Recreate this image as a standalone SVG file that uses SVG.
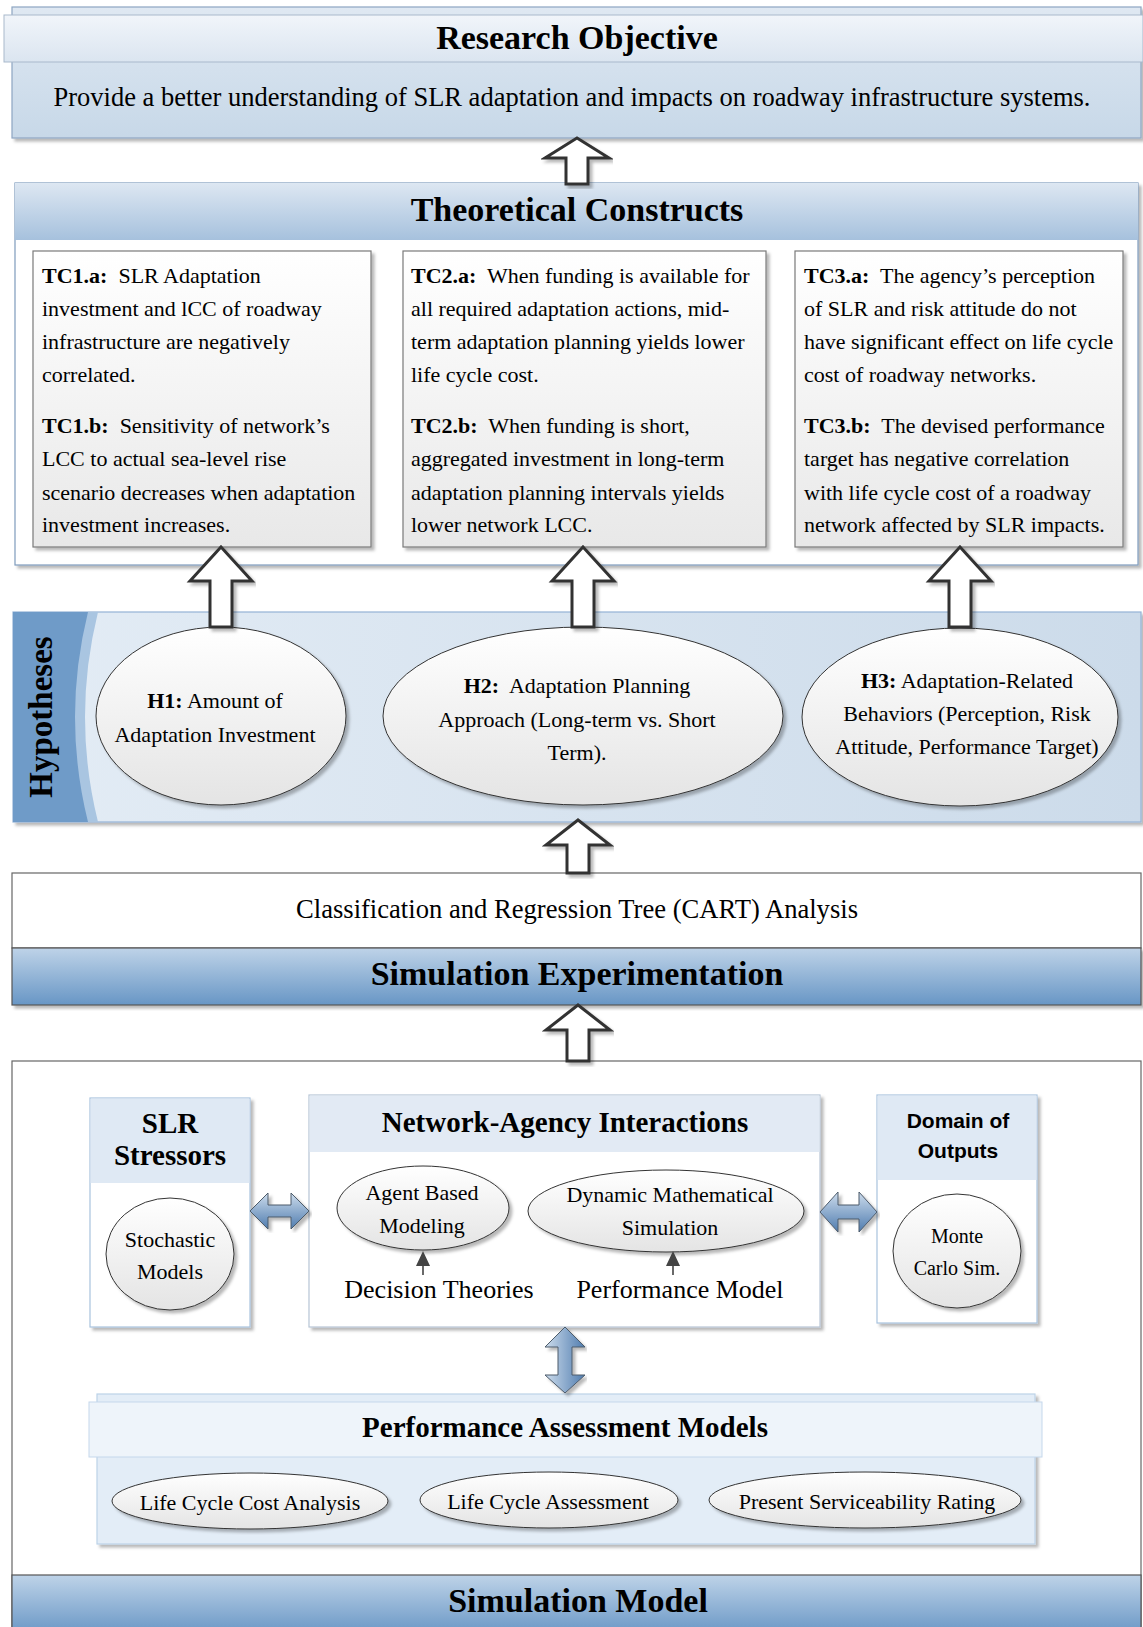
<svg xmlns="http://www.w3.org/2000/svg" width="1143" height="1627" viewBox="0 0 1143 1627">
  <defs>
    <style>
      text { font-family: "Liberation Serif", "Times New Roman", serif; fill: #000; }
      .title { font-size: 34px; font-weight: bold; text-anchor: middle; }
      .sub { font-size: 29px; font-weight: bold; text-anchor: middle; }
      .tc { font-size: 22px; }
      .tc tspan.b { font-weight: bold; }
      .el { font-size: 22px; text-anchor: middle; }
      .mid { text-anchor: middle; }
      .sans { font-family: "Liberation Sans", Arial, sans-serif; font-weight: bold; font-size: 21px; text-anchor: middle; }
      .hollow { fill: #fff; stroke: #333; stroke-width: 3; stroke-linejoin: miter; }
      .barrow { stroke: #4d5b6b; stroke-width: 1; }
      .ell { fill: url(#gEll); stroke: #333; stroke-width: 1; }
      .tcbox { fill: url(#gBox); stroke: #7a7a7a; stroke-width: 1.2; }
      .tip { fill: #444; }
    </style>
    <linearGradient id="gObj" x1="0" y1="0" x2="0" y2="1">
      <stop offset="0" stop-color="#dfe8f2"/>
      <stop offset="1" stop-color="#c7d8e8"/>
    </linearGradient>
    <linearGradient id="gObjHead" x1="0" y1="0" x2="0" y2="1">
      <stop offset="0" stop-color="#f1f5fa"/>
      <stop offset="1" stop-color="#dbe5f0"/>
    </linearGradient>
    <linearGradient id="gHead" x1="0" y1="0" x2="0" y2="1">
      <stop offset="0" stop-color="#dde7f2"/>
      <stop offset="1" stop-color="#a6c1dd"/>
    </linearGradient>
    <linearGradient id="gBand" x1="0" y1="0" x2="0" y2="1">
      <stop offset="0" stop-color="#bed3e8"/>
      <stop offset="1" stop-color="#6896c5"/>
    </linearGradient>
    <linearGradient id="gBox" x1="0" y1="0" x2="0" y2="1">
      <stop offset="0" stop-color="#ffffff"/>
      <stop offset="1" stop-color="#e8e8e8"/>
    </linearGradient>
    <linearGradient id="gEll" x1="0" y1="0" x2="0" y2="1">
      <stop offset="0" stop-color="#ffffff"/>
      <stop offset="1" stop-color="#e4e4e4"/>
    </linearGradient>
    <linearGradient id="gHyp" x1="0" y1="0" x2="1" y2="0">
      <stop offset="0" stop-color="#e3ecf5"/>
      <stop offset="1" stop-color="#ccdbea"/>
    </linearGradient>
    <linearGradient id="gBlueV" x1="0" y1="0" x2="0" y2="1">
      <stop offset="0" stop-color="#cddcec"/>
      <stop offset="1" stop-color="#4f7caf"/>
    </linearGradient>
    <linearGradient id="gBlueH" x1="0" y1="0" x2="1" y2="0">
      <stop offset="0" stop-color="#cddcec"/>
      <stop offset="1" stop-color="#4f7caf"/>
    </linearGradient>
    <filter id="sh" x="-5%" y="-5%" width="110%" height="115%">
      <feDropShadow dx="3" dy="3" stdDeviation="1.5" flood-color="#000" flood-opacity="0.28"/>
    </filter>
  </defs>

  <!-- Research objective -->
  <g id="research-objective">
    <rect x="12" y="7" width="1129" height="131" fill="url(#gObj)" stroke="#8ea6c2" stroke-width="1.2" filter="url(#sh)"/>
    <rect x="4" y="15" width="1139" height="47" fill="url(#gObjHead)" stroke="#a9b9cc" stroke-width="1"/>
    <text class="title" x="577" y="49">Research Objective</text>
    <text class="mid" x="572" y="106" font-size="26.5">Provide a better understanding of SLR adaptation and impacts on roadway infrastructure systems.</text>
  </g>

  <!-- Theoretical constructs -->
  <g id="theoretical-constructs">
    <rect x="15" y="183" width="1123" height="382" fill="#fff" stroke="#7f9cbd" stroke-width="1.2" filter="url(#sh)"/>
    <rect x="15" y="183" width="1123" height="57" fill="url(#gHead)"/>
    <text class="title" x="577" y="221">Theoretical Constructs</text>
  </g>

  <g id="tc1">
    <rect class="tcbox" x="33" y="251" width="338" height="296" filter="url(#sh)"/>
    <text class="tc" x="42" y="283"><tspan class="b">TC1.a:</tspan>&#160; SLR Adaptation</text>
    <text class="tc" x="42" y="316">investment and lCC of roadway</text>
    <text class="tc" x="42" y="349">infrastructure are negatively</text>
    <text class="tc" x="42" y="382">correlated.</text>
    <text class="tc" x="42" y="433"><tspan class="b">TC1.b:</tspan>&#160; Sensitivity of network’s</text>
    <text class="tc" x="42" y="466">LCC to actual sea-level rise</text>
    <text class="tc" x="42" y="500">scenario decreases when adaptation</text>
    <text class="tc" x="42" y="532">investment increases.</text>
  </g>

  <g id="tc2">
    <rect class="tcbox" x="403" y="251" width="363" height="296" filter="url(#sh)"/>
    <text class="tc" x="411" y="283"><tspan class="b">TC2.a:</tspan>&#160; When funding is available for</text>
    <text class="tc" x="411" y="316">all required adaptation actions, mid-</text>
    <text class="tc" x="411" y="349">term adaptation planning yields lower</text>
    <text class="tc" x="411" y="382">life cycle cost.</text>
    <text class="tc" x="411" y="433"><tspan class="b">TC2.b:</tspan>&#160; When funding is short,</text>
    <text class="tc" x="411" y="466">aggregated investment in long-term</text>
    <text class="tc" x="411" y="500">adaptation planning intervals yields</text>
    <text class="tc" x="411" y="532">lower network LCC.</text>
  </g>

  <g id="tc3">
    <rect class="tcbox" x="795" y="251" width="328" height="296" filter="url(#sh)"/>
    <text class="tc" x="804" y="283"><tspan class="b">TC3.a:</tspan>&#160; The agency’s perception</text>
    <text class="tc" x="804" y="316">of SLR and risk attitude do not</text>
    <text class="tc" x="804" y="349">have significant effect on life cycle</text>
    <text class="tc" x="804" y="382">cost of roadway networks.</text>
    <text class="tc" x="804" y="433"><tspan class="b">TC3.b:</tspan>&#160; The devised performance</text>
    <text class="tc" x="804" y="466">target has negative correlation</text>
    <text class="tc" x="804" y="500">with life cycle cost of a roadway</text>
    <text class="tc" x="804" y="532">network affected by SLR impacts.</text>
  </g>

  <!-- Hypotheses panel -->
  <g id="hypotheses">
    <rect x="13" y="612" width="1128" height="210" fill="url(#gHyp)" stroke="#95b3d6" stroke-width="1.2" filter="url(#sh)"/>
    <path d="M98,612 Q72,717 98,822 L13,822 L13,612 Z" fill="#a9c5e1"/>
    <path d="M88,612 Q62,717 88,822 L13,822 L13,612 Z" fill="#6f9bc8"/>
    <text x="52" y="717" font-size="33" font-weight="bold" text-anchor="middle" transform="rotate(-90 52 717)">Hypotheses</text>
  </g>

  <g id="h1">
    <ellipse class="ell" cx="221" cy="716" rx="125" ry="89" filter="url(#sh)"/>
    <text class="el" x="215" y="708"><tspan font-weight="bold">H1:</tspan> Amount of</text>
    <text class="el" x="215" y="742">Adaptation Investment</text>
  </g>
  <g id="h2">
    <ellipse class="ell" cx="583" cy="716" rx="200" ry="89" filter="url(#sh)"/>
    <text class="el" x="577" y="693"><tspan font-weight="bold">H2:</tspan>&#160; Adaptation Planning</text>
    <text class="el" x="577" y="727">Approach (Long-term vs. Short</text>
    <text class="el" x="577" y="760">Term).</text>
  </g>
  <g id="h3">
    <ellipse class="ell" cx="960" cy="717" rx="158" ry="89" filter="url(#sh)"/>
    <text class="el" x="967" y="688"><tspan font-weight="bold">H3:</tspan> Adaptation-Related</text>
    <text class="el" x="967" y="721">Behaviors (Perception, Risk</text>
    <text class="el" x="967" y="754">Attitude, Performance Target)</text>
  </g>

  <!-- Analysis and experimentation -->
  <g id="cart">
    <rect x="12" y="873" width="1129" height="75" fill="#fff" stroke="#666" stroke-width="1.2"/>
    <text class="mid" x="577" y="918" font-size="26.6">Classification and Regression Tree (CART) Analysis</text>
  </g>
  <g id="simulation-experimentation">
    <rect x="12" y="948" width="1129" height="57" fill="url(#gBand)" stroke="#555" stroke-width="1.2" filter="url(#sh)"/>
    <text class="title" x="577" y="985">Simulation Experimentation</text>
  </g>

  <!-- Simulation model -->
  <g id="simulation-model">
    <rect x="12" y="1061" width="1129" height="580" fill="#fff" stroke="#666" stroke-width="1.2"/>
    <rect x="12" y="1575" width="1129" height="60" fill="url(#gBand)" stroke="#555" stroke-width="1.2"/>
    <text class="title" x="578" y="1612">Simulation Model</text>
  </g>

  <g id="slr-stressors">
    <rect x="90" y="1098" width="160" height="229" fill="#fff" stroke="#a9c3de" stroke-width="1.2" filter="url(#sh)"/>
    <rect x="90.6" y="1098.6" width="158.8" height="84.4" fill="#dfe9f4"/>
    <text class="sub" x="170" y="1133" font-size="28">SLR</text>
    <text class="sub" x="170" y="1165" font-size="28">Stressors</text>
    <ellipse class="ell" cx="170" cy="1254" rx="64" ry="56" filter="url(#sh)"/>
    <text class="el" x="170" y="1247">Stochastic</text>
    <text class="el" x="170" y="1279">Models</text>
  </g>

  <g id="network-agency">
    <rect x="309" y="1095" width="511" height="232" fill="#fff" stroke="#b7c5d6" stroke-width="1.2" filter="url(#sh)"/>
    <rect x="309.6" y="1095.6" width="509.8" height="56.4" fill="#e2eaf4"/>
    <text class="sub" x="565" y="1132">Network-Agency Interactions</text>
    <ellipse class="ell" cx="423" cy="1208" rx="86" ry="42" filter="url(#sh)"/>
    <text class="el" x="422" y="1200">Agent Based</text>
    <text class="el" x="422" y="1233">Modeling</text>
    <ellipse class="ell" cx="666" cy="1211" rx="138" ry="41" filter="url(#sh)"/>
    <text class="el" x="670" y="1202">Dynamic Mathematical</text>
    <text class="el" x="670" y="1235">Simulation</text>
    <text class="mid" x="439" y="1298" font-size="26">Decision Theories</text>
    <text class="mid" x="680" y="1298" font-size="26">Performance Model</text>
  </g>

  <g id="domain-of-outputs">
    <rect x="877" y="1095" width="160" height="228" fill="#fff" stroke="#a9c3de" stroke-width="1.2" filter="url(#sh)"/>
    <rect x="877.6" y="1095.6" width="158.8" height="84.4" fill="#dfe9f4"/>
    <text class="sans" x="958" y="1128">Domain of</text>
    <text class="sans" x="958" y="1158">Outputs</text>
    <ellipse class="ell" cx="957" cy="1251" rx="64" ry="57" filter="url(#sh)"/>
    <text class="mid" x="957" y="1243" font-size="20">Monte</text>
    <text class="mid" x="957" y="1275" font-size="20">Carlo Sim.</text>
  </g>

  <g id="performance-assessment">
    <rect x="97" y="1394" width="938" height="150" fill="#e3edf7" stroke="#bcd2e8" stroke-width="1.2" filter="url(#sh)"/>
    <rect x="89" y="1402" width="953" height="55" fill="#eef4fa" stroke="#c5d8ec" stroke-width="1"/>
    <text class="sub" x="565" y="1437">Performance Assessment Models</text>
    <ellipse class="ell" cx="250" cy="1501" rx="138" ry="28" filter="url(#sh)"/>
    <text class="el" x="250" y="1510">Life Cycle Cost Analysis</text>
    <ellipse class="ell" cx="549" cy="1500" rx="129" ry="28" filter="url(#sh)"/>
    <text class="el" x="548" y="1509">Life Cycle Assessment</text>
    <ellipse class="ell" cx="865" cy="1500" rx="156" ry="28" filter="url(#sh)"/>
    <text class="el" x="867" y="1509">Present Serviceability Rating</text>
  </g>

  <!-- Connectors -->
  <g id="connectors">
    <path class="hollow" filter="url(#sh)" d="M577,138 L609,158 L588,158 L588,184 L566,184 L566,158 L545,158 Z"/>
    <path class="hollow" filter="url(#sh)" d="M221,547 L252,581 L232,581 L232,627 L210,627 L210,581 L190,581 Z"/>
    <path class="hollow" filter="url(#sh)" d="M583,547 L614,581 L594,581 L594,627 L572,627 L572,581 L552,581 Z"/>
    <path class="hollow" filter="url(#sh)" d="M960,547 L991,581 L971,581 L971,627 L949,627 L949,581 L929,581 Z"/>
    <path class="hollow" filter="url(#sh)" d="M578,820 L610,845 L589,845 L589,873 L567,873 L567,845 L546,845 Z"/>
    <path class="hollow" filter="url(#sh)" d="M578,1005 L610,1030 L589,1030 L589,1061 L567,1061 L567,1030 L546,1030 Z"/>
    <path class="barrow" fill="url(#gBlueV)" filter="url(#sh)" d="M250,1211 L268,1193 L268,1205 L291,1205 L291,1193 L309,1211 L291,1229 L291,1217 L268,1217 L268,1229 Z"/>
    <path class="barrow" fill="url(#gBlueV)" filter="url(#sh)" d="M820,1212 L838,1192 L838,1205 L859,1205 L859,1192 L877,1212 L859,1232 L859,1219 L838,1219 L838,1232 Z"/>
    <path class="barrow" fill="url(#gBlueH)" filter="url(#sh)" d="M565,1327 L585,1347 L572,1347 L572,1375 L585,1375 L565,1393 L545,1375 L558,1375 L558,1347 L545,1347 Z"/>
    <line x1="423" y1="1275" x2="423" y2="1264" stroke="#444" stroke-width="1.6"/>
    <path class="tip" d="M423,1251 L430,1266 L416,1266 Z"/>
    <line x1="673" y1="1275" x2="673" y2="1264" stroke="#444" stroke-width="1.6"/>
    <path class="tip" d="M673,1251 L680,1266 L666,1266 Z"/>
  </g>
</svg>
